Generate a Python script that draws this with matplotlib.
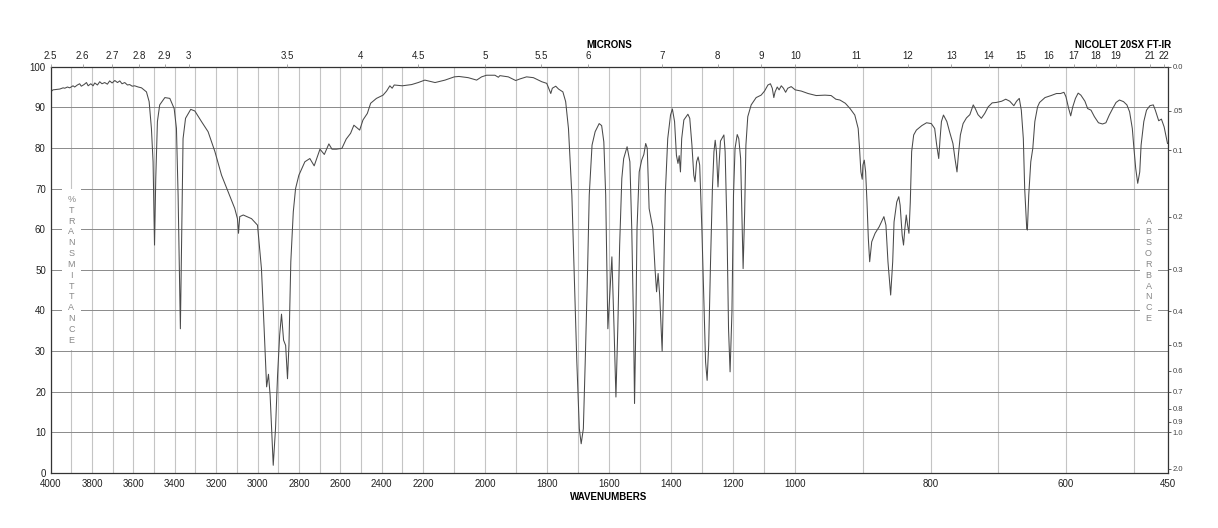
import numpy as np
import matplotlib
matplotlib.use("Agg")
import matplotlib.pyplot as plt

plt.rcParams['font.family'] = ['Liberation Sans', 'DejaVu Sans']

# spectrum: wavenumber (cm-1) and %T
wavenumber = [
    4000, 3989, 3973, 3956, 3940, 3932, 3919, 3908, 3892, 3884, 3871, 3860, 3852, 3839,
    3827, 3819, 3806, 3795, 3787, 3774, 3763, 3752, 3739, 3726, 3715, 3703, 3690, 3677,
    3666, 3655, 3642, 3629, 3618, 3606, 3594, 3577, 3561, 3537, 3524, 3513, 3505, 3498,
    3492, 3484, 3473, 3448, 3424, 3403, 3392, 3384, 3373, 3366, 3360, 3348, 3323, 3303,
    3271, 3239, 3206, 3174, 3142, 3110, 3097, 3092, 3086, 3069, 3029, 3000, 2981, 2968,
    2956, 2947, 2939, 2924, 2913, 2903, 2893, 2884, 2874, 2864, 2855, 2848, 2839, 2827,
    2816, 2800, 2771, 2747, 2726, 2698, 2677, 2655, 2640, 2619, 2592, 2571, 2550, 2534,
    2506, 2490, 2469, 2453, 2425, 2393, 2376, 2360, 2349, 2339, 2300, 2255, 2223, 2194,
    2161, 2129, 2099, 2084, 2054, 2027, 2011, 1995, 1968, 1957, 1952, 1925, 1901, 1887,
    1866, 1844, 1817, 1801, 1788, 1783, 1772, 1763, 1749, 1740, 1731, 1720, 1712, 1704,
    1696, 1690, 1683, 1677, 1670, 1664, 1655, 1645, 1632, 1624, 1617, 1611, 1604, 1591,
    1584, 1578, 1572, 1566, 1559, 1553, 1542, 1533, 1527, 1521, 1518, 1514, 1510, 1503,
    1495, 1488, 1482, 1477, 1471, 1459, 1452, 1447, 1442, 1437, 1432, 1429, 1425, 1419,
    1411, 1402, 1396, 1389, 1383, 1378, 1374, 1370, 1366, 1359, 1346, 1340, 1333, 1327,
    1323, 1318, 1313, 1308, 1301, 1295, 1289, 1284, 1279, 1273, 1267, 1262, 1258, 1254,
    1249, 1245, 1241, 1230, 1226, 1220, 1215, 1210, 1204, 1199, 1194, 1187, 1182, 1176,
    1172, 1168, 1163, 1159, 1153, 1142, 1126, 1110, 1099, 1088, 1080, 1074, 1069, 1065,
    1058, 1052, 1045, 1038, 1031, 1024, 1013, 1000, 991, 981, 969, 956, 947, 940,
    934, 926, 919, 912, 907, 905, 903, 901, 900, 898, 896, 894, 892, 890,
    887, 882, 876, 869, 866, 863, 859, 856, 854, 850, 847, 845, 842, 840,
    838, 836, 834, 832, 830, 828, 825, 821, 813, 806, 799, 794, 791, 788,
    786, 784, 781, 776, 772, 767, 764, 761, 759, 756, 752, 747, 742, 737,
    734, 730, 725, 720, 715, 709, 703, 695, 689, 683, 677, 673, 669, 666,
    663, 661, 658, 657, 655, 652, 649, 646, 642, 639, 631, 622, 614, 608,
    603, 600, 596, 593, 590, 586, 582, 578, 572, 568, 563, 558, 552, 546,
    541, 536, 531, 526, 521, 515, 510, 506, 502, 500, 497, 494, 491, 489,
    485, 481, 476, 471, 468, 463, 459, 455, 450,
]
transmittance = [
    93.8, 94.3, 94.4, 94.5, 94.8, 94.7, 95.0, 94.8, 95.3, 95.0, 95.5, 95.8, 95.2, 95.6,
    96.1, 95.3, 95.8, 95.3, 96.0, 95.5, 96.3, 95.8, 96.1, 95.7, 96.5, 96.0, 96.6, 96.1,
    96.5, 95.8, 96.1, 95.5, 95.6, 95.2, 95.3, 95.0, 94.8, 93.8, 91.4, 84.8, 76.6, 56.1,
    72.5, 86.5, 90.6, 92.4, 92.2, 89.7, 84.8, 68.4, 35.5, 60.2, 82.3, 87.3, 89.5, 89.1,
    86.5, 84.0, 79.1, 73.3, 69.2, 65.1, 62.6, 59.0, 63.1, 63.5, 62.6, 61.0, 50.3, 35.5,
    21.2, 24.3, 19.1, 1.9, 10.9, 24.1, 33.9, 39.1, 32.7, 31.4, 23.2, 31.4, 52.0, 64.3,
    70.0, 73.3, 76.6, 77.4, 75.6, 79.7, 78.4, 81.0, 79.7, 79.7, 79.9, 82.2, 83.6, 85.6,
    84.4, 86.9, 88.5, 91.0, 92.2, 93.0, 94.0, 95.3, 94.7, 95.5, 95.3, 95.6, 96.1, 96.7,
    96.1, 96.7, 97.5, 97.6, 97.3, 96.7, 97.5, 97.9, 97.9, 97.4, 97.8, 97.5, 96.6, 97.0,
    97.5, 97.3, 96.3, 95.9, 93.4, 94.7, 95.2, 94.5, 93.8, 91.4, 84.8, 68.4, 47.9, 27.3,
    10.9, 7.2, 10.9, 27.3, 47.9, 68.4, 80.7, 84.0, 86.0, 85.5, 81.5, 68.4, 35.5, 53.2,
    35.5, 18.7, 35.5, 56.1, 72.5, 77.4, 80.3, 76.6, 60.2, 35.5, 17.1, 35.5, 60.2, 74.1,
    77.0, 78.4, 81.1, 79.9, 65.1, 60.2, 50.3, 44.6, 49.1, 43.8, 35.5, 30.0, 43.8, 68.4,
    82.3, 88.1, 89.6, 86.5, 78.2, 76.2, 78.1, 74.1, 82.3, 86.9, 88.3, 87.3, 80.7, 73.3,
    71.7, 76.6, 77.8, 75.8, 60.2, 43.8, 27.3, 22.8, 31.4, 52.0, 70.0, 79.1, 81.9, 79.1,
    70.4, 76.6, 81.7, 83.2, 79.1, 60.2, 35.5, 24.9, 39.7, 68.4, 79.9, 83.3, 82.3, 77.4,
    64.3, 50.3, 64.3, 80.7, 87.7, 90.6, 92.4, 93.0, 94.0, 95.5, 95.8, 94.7, 92.4, 93.8,
    95.0, 94.3, 95.3, 94.7, 93.7, 94.7, 95.1, 94.3, 94.0, 93.4, 92.9, 93.0, 92.9, 92.0,
    91.8, 91.0, 89.7, 88.1, 84.8, 79.9, 74.1, 72.3, 75.8, 77.0, 74.1, 66.7, 57.7, 52.0,
    56.9, 59.0, 60.6, 63.1, 61.0, 52.0, 43.8, 52.0, 61.8, 66.7, 68.0, 65.9, 58.5, 56.1,
    60.2, 63.5, 61.0, 59.0, 66.7, 79.1, 83.2, 84.4, 85.5, 86.2, 86.0, 84.8, 80.7, 77.4,
    82.3, 86.5, 88.1, 86.5, 84.0, 81.1, 77.4, 74.1, 78.2, 83.2, 86.0, 87.4, 88.2, 90.6,
    89.7, 88.2, 87.3, 88.5, 90.1, 91.1, 91.2, 91.5, 92.0, 91.5, 90.4, 91.5, 92.2, 89.3,
    82.3, 70.0, 60.2, 59.8, 68.4, 76.6, 79.9, 86.5, 90.1, 91.2, 92.4, 92.9, 93.4, 93.4,
    93.7, 92.6, 89.7, 87.9, 90.1, 92.2, 93.5, 93.0, 91.5, 89.7, 89.3, 87.7, 86.2, 85.9,
    86.2, 88.1, 89.7, 91.2, 91.8, 91.4, 90.6, 88.9, 84.8, 80.7, 75.0, 71.3, 74.1, 80.7,
    86.5, 89.3, 90.4, 90.6, 89.3, 86.7, 87.1, 85.2, 81.1,
]

wn_ticks = [4000, 3800, 3600, 3400, 3200, 3000, 2800, 2600, 2400, 2200, 2000, 1800,
            1600, 1400, 1200, 1000, 800, 600, 450]
micron_labels = ['2.5', '2.6', '2.7', '2.8', '2.9', '3', '3.5', '4', '4.5', '5', '5.5',
                 '6', '7', '8', '9', '10', '11', '12', '13', '14', '15', '16', '17',
                 '18', '19', '21', '22']
absorb_labels = ['0.0', '.05', '0.1', '0.2', '0.3', '0.4', '0.5', '0.6', '0.7', '0.8',
                 '0.9', '1.0', '2.0']
absorb_values = [0.0, 0.05, 0.1, 0.2, 0.3, 0.4, 0.5, 0.6, 0.7, 0.8, 0.9, 1.0, 2.0]


# three equal-width panels: 4000-2200, 2200-1000, 1000-450
def fwd(w):
    w = np.asarray(w, dtype=float)
    u = np.where(w >= 2200, (4000 - w) / 1800.0,
                 np.where(w >= 1000, 1 + (2200 - w) / 1200.0, 2 + (1000 - w) / 550.0))
    return 3 - u


def inv(v):
    u = 3 - np.asarray(v, dtype=float)
    return np.where(u <= 1, 4000 - 1800.0 * u,
                    np.where(u <= 2, 2200 - 1200.0 * (u - 1), 1000 - 550.0 * (u - 2)))


fig = plt.figure(figsize=(12.18, 5.28), dpi=100)
ax = fig.add_axes([50.7 / 1218, 55 / 528, 1116.8 / 1218, 406.3 / 528])
ax.set_xscale('function', functions=(fwd, inv))
ax.set_xlim(4000, 450)
ax.set_ylim(0, 100)

ax.plot(wavenumber, transmittance, color='#4a4a4a', lw=0.75, zorder=2)

ax.set_xticks(wn_ticks)
ax.set_xticklabels([str(t) for t in wn_ticks])
ax.set_xticks(range(500, 4000, 100), minor=True)
ax.set_yticks(range(0, 101, 10))
ax.tick_params(axis='x', which='both', length=0, pad=4, labelsize=7, colors='#222222')
ax.tick_params(axis='y', length=0, pad=3.5, labelsize=7, colors='#222222')
ax.grid(axis='x', which='both', color='#c4c4c4', lw=0.8)
ax.grid(axis='y', which='major', color='#8a8a8a', lw=0.7)
for s in ax.spines.values():
    s.set_color('#333333')
    s.set_linewidth(0.9)

# right absorbance axis
ax2 = ax.twinx()
ax2.set_ylim(0, 100)
ax2.set_yticks([100 * 10 ** (-a) for a in absorb_values])
ax2.set_yticklabels(absorb_labels)
ax2.tick_params(axis='y', length=2.5, width=0.6, pad=1.2, labelsize=5.5,
                colors='#444444')

# top micron axis
ax3 = ax.twiny()
ax3.set_xscale('function', functions=(fwd, inv))
ax3.set_xlim(4000, 450)
ax3.set_xticks([10000 / float(m) for m in micron_labels])
ax3.set_xticklabels(micron_labels)
ax3.tick_params(axis='x', length=2.5, width=0.6, pad=1.5, labelsize=7,
                colors='#999999', labelcolor='#222222')
for a in (ax2, ax3):
    for s in a.spines.values():
        s.set_visible(False)

ax.text(3900, 50, '\n'.join('%TRANSMITTANCE'), ha='center', va='center', fontsize=6.5,
        color='#888888', linespacing=1.26, zorder=3,
        bbox=dict(facecolor='white', edgecolor='none', pad=4))
ax.text(478, 50, '\n'.join('ABSORBANCE'), ha='center', va='center', fontsize=6.5,
        color='#888888', linespacing=1.26, zorder=3,
        bbox=dict(facecolor='white', edgecolor='none', pad=4))

fig.text(609 / 1218, 1 - 45 / 528, 'MICRONS', ha='center', va='center',
         fontsize=7, fontweight='bold')
fig.text(1171.5 / 1218, 1 - 45 / 528, 'NICOLET 20SX FT-IR', ha='right', va='center',
         fontsize=7, fontweight='bold')
fig.text(609 / 1218, 1 - 496.7 / 528, 'WAVENUMBERS', ha='center', va='center',
         fontsize=7, fontweight='bold')

fig.savefig('out.png', dpi=100)
